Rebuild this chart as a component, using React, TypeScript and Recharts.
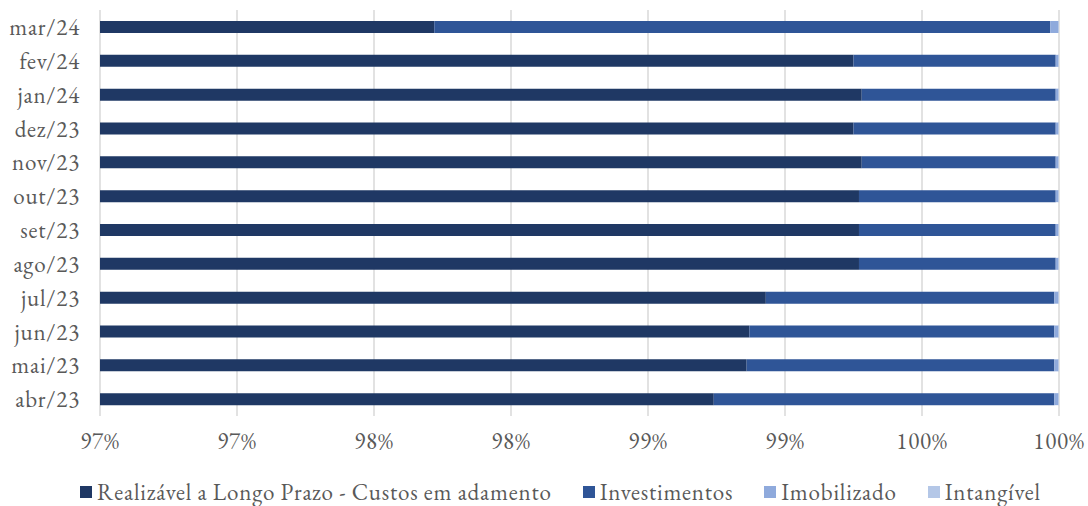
import React from 'react';
import { BarChart, Bar, XAxis, YAxis, CartesianGrid, Legend } from 'recharts';

const categories = ['mar/24', 'fev/24', 'jan/24', 'dez/23', 'nov/23', 'out/23', 'set/23', 'ago/23', 'jul/23', 'jun/23', 'mai/23', 'abr/23'];
const realizavel = [97.72, 99.25, 99.28, 99.25, 99.28, 99.27, 99.27, 99.27, 98.93, 98.87, 98.86, 98.74];
const investimentos = [2.248, 0.738, 0.708, 0.738, 0.708, 0.718, 0.718, 0.718, 1.053, 1.113, 1.123, 1.243];
const imobilizado = [0.03, 0.01, 0.01, 0.01, 0.01, 0.01, 0.01, 0.01, 0.015, 0.015, 0.015, 0.015];
const intangivel = [0.002, 0.002, 0.002, 0.002, 0.002, 0.002, 0.002, 0.002, 0.002, 0.002, 0.002, 0.002];
const xTicks = [96.5, 97, 97.5, 98, 98.5, 99, 99.5, 100];

const seriesNames = ['Realizável a Longo Prazo - Custos em adamento', 'Investimentos', 'Imobilizado', 'Intangível'];
const colors = ['#1F3864', '#2F5597', '#8FAADC', '#B4C7E7'];

const data = categories.map((c, i) => ({
  name: c,
  realizavel: realizavel[i],
  investimentos: investimentos[i],
  imobilizado: imobilizado[i],
  intangivel: intangivel[i],
}));

const FONT = 'EB Garamond, Liberation Serif, serif';
const TEXT = '#595959';
const FS = 23;
const LS = 0.8;

const LegendContent = () => (
  <div style={{ display: 'flex', justifyContent: 'flex-start', paddingLeft: 80, paddingTop: 7, gap: 31, fontFamily: FONT, fontSize: FS, lineHeight: '22px', letterSpacing: LS, color: TEXT, whiteSpace: 'nowrap' }}>
    {seriesNames.map((n, i) => (
      <div key={n} style={{ display: 'flex', alignItems: 'center', height: 22 }}>
        <span style={{ display: 'inline-block', width: 12, height: 12, background: colors[i], marginRight: 5 }} />
        <span>{n}</span>
      </div>
    ))}
  </div>
);

const tickStyle = { fill: TEXT, fontSize: FS, fontFamily: FONT, letterSpacing: LS };

export default function App() {
  return (
    <div style={{ position: 'absolute', left: 0, top: 0, width: 1088, height: 506, background: '#fff', fontFamily: FONT }}>
      <BarChart
        width={1088}
        height={506}
        data={data}
        layout="vertical"
        margin={{ top: 10, right: 29, bottom: 0, left: 0 }}
        barSize={12}
      >
        <CartesianGrid horizontal={false} stroke="#D9D9D9" strokeWidth={1.5} />
        <XAxis
          type="number"
          domain={[96.5, 100]}
          ticks={xTicks}
          allowDataOverflow
          axisLine={false}
          tickLine={false}
          tickMargin={11}
          height={58}
          interval={0}
          tickFormatter={(v: number) => `${Math.round(v)}%`}
          tick={tickStyle}
        />
        <YAxis
          type="category"
          dataKey="name"
          width={100}
          axisLine={false}
          tickLine={false}
          tickMargin={14}
          interval={0}
          tick={tickStyle}
        />
        <Legend verticalAlign="bottom" height={32} content={<LegendContent />} />
        <Bar dataKey="realizavel" name={seriesNames[0]} stackId="a" fill={colors[0]} isAnimationActive={false} />
        <Bar dataKey="investimentos" name={seriesNames[1]} stackId="a" fill={colors[1]} isAnimationActive={false} />
        <Bar dataKey="imobilizado" name={seriesNames[2]} stackId="a" fill={colors[2]} isAnimationActive={false} />
        <Bar dataKey="intangivel" name={seriesNames[3]} stackId="a" fill={colors[3]} isAnimationActive={false} />
      </BarChart>
    </div>
  );
}
